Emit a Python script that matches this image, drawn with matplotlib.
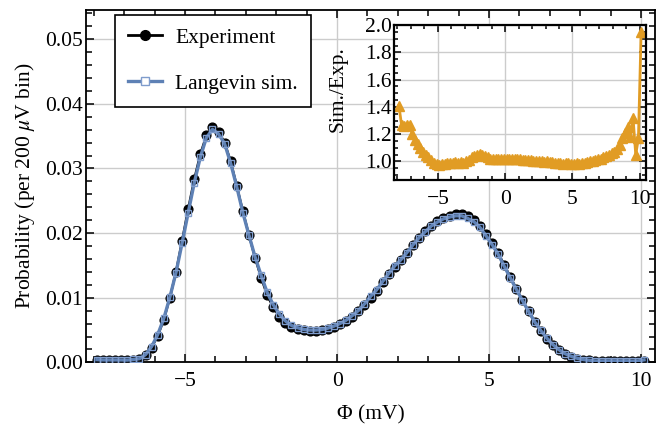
import numpy as np
import matplotlib
matplotlib.use("Agg")
import matplotlib.pyplot as plt
from matplotlib.ticker import MultipleLocator, FormatStrFormatter
from matplotlib.lines import Line2D

plt.rcParams["font.family"] = ["Liberation Serif", "DejaVu Serif"]
plt.rcParams["mathtext.fontset"] = "stix"
plt.rcParams["font.size"] = 15.5

# bin centres, 200 uV bins (mV)
phi = np.round(np.arange(-7.9, 10.15, 0.2), 1)

# measured histogram (black)
p_exp = [0.0003, 0.0003, 0.0003, 0.0003, 0.0003, 0.0003, 0.0004, 0.0005, 0.0011, 0.0023,
         0.0041, 0.0066, 0.0100, 0.0140, 0.0188, 0.0237, 0.0283, 0.0322, 0.0351, 0.0364,
         0.0357, 0.0340, 0.0311, 0.0273, 0.0234, 0.0197, 0.0162, 0.0131, 0.0104, 0.0085,
         0.0071, 0.0061, 0.0055, 0.0052, 0.0050, 0.0049, 0.0049, 0.0050, 0.0052, 0.0055,
         0.0059, 0.0064, 0.0071, 0.0079, 0.0089, 0.0100, 0.0111, 0.0124, 0.0136, 0.0148,
         0.0158, 0.0170, 0.0182, 0.0193, 0.0203, 0.0211, 0.0218, 0.0223, 0.0227, 0.0229,
         0.0229, 0.0226, 0.0220, 0.0211, 0.0199, 0.0185, 0.0169, 0.0151, 0.0132, 0.0114,
         0.0096, 0.0079, 0.0063, 0.0049, 0.0037, 0.0027, 0.0019, 0.0013, 0.0009, 0.0006,
         0.0004, 0.0003, 0.0002, 0.0002, 0.0002, 0.0002, 0.0002, 0.0002, 0.0002, 0.0002,
         0.0002]

# Langevin simulation (blue)
p_sim = [0.00042, 0.00038, 0.00038, 0.00038, 0.00038, 0.00036, 0.00046, 0.00057, 0.00121, 0.00246,
         0.00431, 0.00680, 0.01010, 0.01386, 0.01842, 0.02311, 0.02773, 0.03172, 0.03475, 0.03604,
         0.03534, 0.03383, 0.03079, 0.02716, 0.02317, 0.01970, 0.01636, 0.01349, 0.01082, 0.00893,
         0.00749, 0.00641, 0.00572, 0.00536, 0.00510, 0.00500, 0.00500, 0.00508, 0.00530, 0.00561,
         0.00602, 0.00653, 0.00724, 0.00802, 0.00903, 0.01020, 0.01121, 0.01252, 0.01374, 0.01495,
         0.01588, 0.01700, 0.01820, 0.01930, 0.02020, 0.02110, 0.02170, 0.02220, 0.02247, 0.02267,
         0.02267, 0.02226, 0.02178, 0.02089, 0.01960, 0.01822, 0.01673, 0.01487, 0.01307, 0.01129,
         0.00955, 0.00790, 0.00630, 0.00495, 0.00377, 0.00275, 0.00196, 0.00135, 0.00095, 0.00064,
         0.00043, 0.00033, 0.00022, 0.00023, 0.00024, 0.00025, 0.00024, 0.00026, 0.00021, 0.00023,
         0.00039]

# ratio sim/exp (inset)
ratio = [1.41, 1.27, 1.26, 1.27, 1.27, 1.20, 1.16, 1.13, 1.10, 1.07,
         1.05, 1.03, 1.01, 0.99, 0.98, 0.975, 0.98, 0.985, 0.99, 0.99,
         0.99, 0.995, 0.99, 0.995, 0.99, 1.00, 1.01, 1.03, 1.04, 1.05,
         1.055, 1.05, 1.04, 1.03, 1.02, 1.02, 1.02, 1.015, 1.02, 1.02,
         1.02, 1.02, 1.02, 1.015, 1.015, 1.02, 1.01, 1.01, 1.01, 1.01,
         1.005, 1.00, 1.00, 1.00, 0.995, 1.00, 0.995, 0.995, 0.99, 0.99,
         0.99, 0.985, 0.99, 0.99, 0.985, 0.985, 0.99, 0.985, 0.99, 0.99,
         0.995, 1.00, 1.00, 1.01, 1.02, 1.02, 1.03, 1.04, 1.05, 1.06,
         1.07, 1.09, 1.12, 1.17, 1.21, 1.25, 1.18, 1.32, 1.05, 1.17,
         1.95]

blue = "#5E81B5"
orange = "#E19C24"
gridc = "#cccccc"

fig = plt.figure(figsize=(6.56, 4.28), dpi=100)
ax = fig.add_axes([0.1311, 0.1532, 0.8674, 0.8234])

ax.plot(phi, p_exp, color="black", lw=1.7, marker="o", ms=6.3, mfc="black", mec="black", zorder=3)
ax.plot(phi, p_sim, color=blue, lw=2.4, marker="s", ms=5, mfc="none", mec="#7f9ccc", mew=1.0, zorder=4)

ax.set_xlim(-8.26, 10.46)
ax.set_ylim(0, 0.0545)
ax.xaxis.set_major_locator(MultipleLocator(5))
ax.xaxis.set_minor_locator(MultipleLocator(1))
ax.yaxis.set_major_locator(MultipleLocator(0.01))
ax.yaxis.set_minor_locator(MultipleLocator(0.002))
ax.yaxis.set_major_formatter(FormatStrFormatter("%.2f"))
ax.tick_params(which="both", direction="in", top=True, right=True, width=1.1)
ax.tick_params(which="major", length=6)
ax.tick_params(which="minor", length=4)
ax.tick_params(axis="x", pad=7)
ax.tick_params(axis="y", pad=2)
ax.grid(True, which="major", color=gridc, lw=1.0)
ax.set_axisbelow(True)
for s in ax.spines.values():
    s.set_linewidth(1.3)

ax.set_xlabel("Φ (mV)", labelpad=10)
ax.set_ylabel(r"Probability (per 200 $\mu$V bin)", labelpad=6)

handles = [
    Line2D([], [], color="black", lw=2, marker="o", ms=7, mfc="black", mec="black"),
    Line2D([], [], color=blue, lw=2.4, marker="s", ms=6, mfc="white", mec="#7f9ccc", mew=1.0),
]
leg = ax.legend(handles, ["Experiment", "Langevin sim."], loc="upper left",
                bbox_to_anchor=(0.051, 0.986), borderaxespad=0, fancybox=False,
                framealpha=1, edgecolor="black", handlelength=1.6, handletextpad=0.6,
                labelspacing=1.2, borderpad=0.6)
leg.get_frame().set_linewidth(1.2)

# inset: ratio
ins = fig.add_axes([0.6006, 0.5794, 0.3841, 0.3621])
ins.plot(phi, ratio, color=orange, lw=2, marker="^", ms=6.5, mfc=orange, mec=orange)
ins.set_xlim(-8.26, 10.46)
ins.set_ylim(0.864, 2.0)
ins.xaxis.set_major_locator(MultipleLocator(5))
ins.xaxis.set_minor_locator(MultipleLocator(1))
ins.yaxis.set_major_locator(MultipleLocator(0.2))
ins.yaxis.set_minor_locator(MultipleLocator(0.05))
ins.yaxis.set_major_formatter(FormatStrFormatter("%.1f"))
ins.tick_params(which="both", direction="in", top=True, right=True, width=1.1)
ins.tick_params(which="major", length=5)
ins.tick_params(which="minor", length=3)
ins.tick_params(axis="x", pad=7)
ins.tick_params(axis="y", pad=1.5)
ins.grid(True, which="major", color=gridc, lw=1.0)
ins.set_axisbelow(True)
for s in ins.spines.values():
    s.set_linewidth(1.6)
ins.set_ylabel("Sim./Exp.", labelpad=2)
ins.yaxis.set_label_coords(-0.185, 0.587)

fig.savefig("out.png", dpi=100)
